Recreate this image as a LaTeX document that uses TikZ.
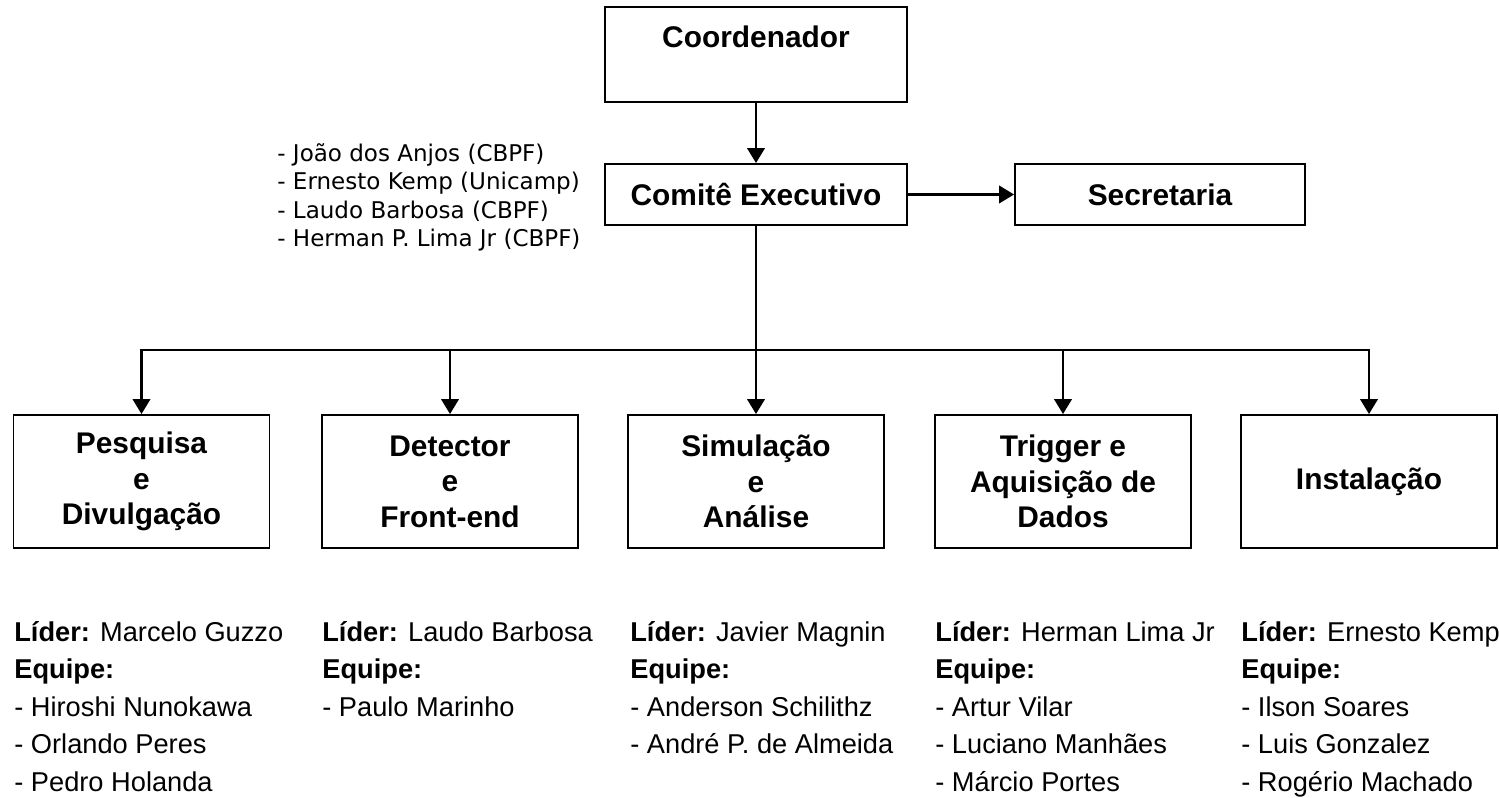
\documentclass[tikz,border=0pt]{standalone}
\usepackage{fontspec}
\setmainfont{Liberation Sans}
\newfontfamily\listfont{DejaVu Sans}
\usetikzlibrary{arrows.meta}

\tikzset{
  box/.style={draw=black, line width=1.1pt, align=center, inner sep=2pt,
    font=\bfseries\fontsize{17}{20.2}\selectfont},
  arr/.style={-{Triangle[length=8.5pt,width=10pt]}, line width=1.2pt},
  team/.style={align=left, anchor=north west, inner sep=0pt,
    font=\fontsize{15.5}{21.3}\selectfont},
  members/.style={align=left, anchor=north west, inner sep=0pt,
    font=\listfont\fontsize{13.1}{16.2}\selectfont}
}

\begin{document}
\begin{tikzpicture}
			\useasboundingbox (0,0) rectangle (29.98,15.96);

			\node[box, minimum width=6.04cm, minimum height=1.9cm] (coord) at (15.12,14.87) {\strut Coordenador\\[-4.5pt] \strut};
			\node[box, minimum width=6.04cm, minimum height=1.22cm] (comite) at (15.12,12.07) {Comitê Executivo};
			\node[box, minimum width=5.8cm, minimum height=1.22cm] (secret) at (23.20,12.07) {Secretaria};

			\node[members] (exec) at (5.54,13.10) {- João dos Anjos (CBPF)\\ - Ernesto Kemp (Unicamp)\\ - Laudo Barbosa (CBPF)\\ - Herman P. Lima Jr (CBPF)};

			\node[box, minimum width=5.12cm, minimum height=2.66cm] (pesq) at (2.83,6.33) {Pesquisa\\ e\\ Divulgação};
			\node[box, minimum width=5.12cm, minimum height=2.66cm] (detec) at (9.00,6.33) {Detector\\ e\\ Front-end};
			\node[box, minimum width=5.12cm, minimum height=2.66cm] (simul) at (15.12,6.33) {Simulação\\ e\\ Análise};
			\node[box, minimum width=5.12cm, minimum height=2.66cm] (trig) at (21.26,6.33) {Trigger e\\ Aquisição de\\ Dados};
			\node[box, minimum width=5.12cm, minimum height=2.66cm] (inst) at (27.38,6.33) {Instalação};

			\coordinate (bar) at (15.12,8.96);

			\path [arr] (coord) edge (comite);
			\path [arr] (comite) edge (secret);
			\path [arr] (comite) edge (simul);
			\draw [arr] (bar) -| (pesq);
			\draw [arr] (bar) -| (detec);
			\draw [arr] (bar) -| (trig);
			\draw [arr] (bar) -| (inst);

			\node[team] (tpesq) at (0.28,3.54) {\textbf{Líder:} Marcelo Guzzo\\ \textbf{Equipe:}\\ - Hiroshi Nunokawa\\ - Orlando Peres\\ - Pedro Holanda};
			\node[team] (tdetec) at (6.44,3.54) {\textbf{Líder:} Laudo Barbosa\\ \textbf{Equipe:}\\ - Paulo Marinho};
			\node[team] (tsimul) at (12.60,3.54) {\textbf{Líder:} Javier Magnin\\ \textbf{Equipe:}\\ - Anderson Schilithz\\ - André P. de Almeida};
			\node[team] (ttrig) at (18.70,3.54) {\textbf{Líder:} Herman Lima Jr\\ \textbf{Equipe:}\\ - Artur Vilar\\ - Luciano Manhães\\ - Márcio Portes};
			\node[team] (tinst) at (24.82,3.54) {\textbf{Líder:} Ernesto Kemp\\ \textbf{Equipe:}\\ - Ilson Soares\\ - Luis Gonzalez\\ - Rogério Machado};
		\end{tikzpicture}
\end{document}
